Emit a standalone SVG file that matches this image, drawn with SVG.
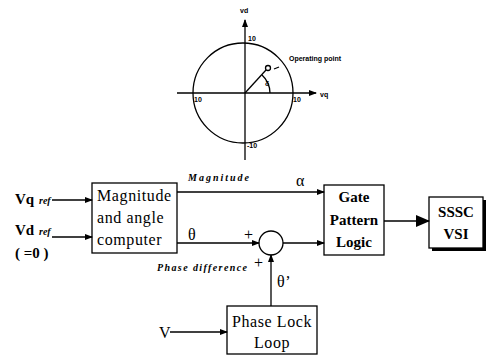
<svg xmlns="http://www.w3.org/2000/svg" width="499" height="356" viewBox="0 0 499 356">
<style>
.ln{stroke:#000;stroke-width:1.3;fill:none}
.box{stroke:#000;stroke-width:1.3;fill:#fff}
.t{font-family:"Liberation Serif",serif;font-size:16px;fill:#000;letter-spacing:0.6px}
.tb{font-family:"Liberation Serif",serif;font-size:15px;font-weight:bold;fill:#000}
.it{font-family:"Liberation Serif",serif;font-size:10px;font-style:italic;font-weight:bold;fill:#000}
.sm{font-family:"Liberation Sans",sans-serif;font-size:7px;font-weight:bold;fill:#000}
</style>
<defs>
<marker id="a" markerWidth="8" markerHeight="6" refX="7" refY="3" orient="auto" markerUnits="userSpaceOnUse"><path d="M0,0L8,3L0,6z" fill="#000"/></marker>
<marker id="ab" markerWidth="14" markerHeight="12" refX="13" refY="6" orient="auto" markerUnits="userSpaceOnUse"><path d="M0,0L14,6L0,12z" fill="#000"/></marker>
</defs>
<g id="phasor">
<circle cx="243" cy="93" r="50" class="ln" stroke-width="2"/>
<line x1="245" y1="160" x2="245" y2="20" class="ln" stroke-width="1.9" marker-end="url(#a)"/>
<line x1="177" y1="93" x2="316" y2="93" class="ln" stroke-width="1.7" marker-end="url(#a)"/>
<line x1="245" y1="93" x2="266" y2="70" class="ln" stroke-width="1.5"/>
<circle cx="268" cy="68" r="2.5" class="ln" stroke-width="1.3"/>
<path d="M270,93 A25,25 0 0 0 262,75" class="ln" stroke-width="1.3"/>
<text x="265" y="86" class="sm" font-size="8">δ</text>
<path d="M274,69 L279,67" class="ln" stroke-width="1"/>
<text x="289" y="61" class="sm" font-size="5">Operating point</text>
<text x="240" y="13" class="sm" font-size="8">vd</text>
<text x="320" y="97" class="sm" font-size="8">vq</text>
<text x="248" y="41" class="sm">10</text>
<text x="194" y="102" class="sm">10</text>
<text x="293" y="102" class="sm">10</text>
<text x="247" y="148" class="sm">-10</text>
</g>
<g id="mag">
<rect x="92" y="183" width="85" height="70" class="box"/>
<text x="97" y="201" class="t">Magnitude</text>
<text x="97" y="223" class="t">and angle</text>
<text x="97" y="245" class="t">computer</text>
</g>
<g id="gate">
<rect x="324" y="185" width="60" height="70" class="box"/>
<text x="354" y="202" class="tb" text-anchor="middle" font-size="16">Gate</text>
<text x="354" y="225" class="tb" text-anchor="middle" font-size="16">Pattern</text>
<text x="354" y="247" class="tb" text-anchor="middle" font-size="16">Logic</text>
</g>
<g id="sssc">
<rect x="432" y="200" width="54" height="51" fill="#000"/>
<rect x="429" y="197" width="54" height="51" class="box"/>
<text x="456" y="217" class="tb" text-anchor="middle">SSSC</text>
<text x="456" y="239" class="tb" text-anchor="middle">VSI</text>
</g>
<g id="pll">
<rect x="227" y="306" width="90" height="48" class="box"/>
<text x="272" y="327" class="t" text-anchor="middle">Phase Lock</text>
<text x="272" y="348" class="t" text-anchor="middle">Loop</text>
</g>
<g id="sum">
<circle cx="271" cy="243" r="12" class="box"/>
</g>
<g id="connectors">
<line x1="52" y1="200" x2="92" y2="200" class="ln" marker-end="url(#a)"/>
<line x1="52" y1="237" x2="92" y2="237" class="ln" marker-end="url(#a)"/>
<line x1="177" y1="192" x2="324" y2="192" class="ln" marker-end="url(#a)"/>
<line x1="177" y1="243" x2="259" y2="243" class="ln" marker-end="url(#a)"/>
<line x1="283" y1="243" x2="324" y2="243" class="ln" marker-end="url(#a)"/>
<line x1="271" y1="306" x2="271" y2="255" class="ln" marker-end="url(#a)"/>
<line x1="170" y1="332" x2="227" y2="332" class="ln" marker-end="url(#a)"/>
<line x1="384" y1="221" x2="429" y2="221" class="ln" stroke-width="3.5" marker-end="url(#ab)"/>
</g>
<g id="labels">
<text x="15" y="204" class="tb" font-size="16">Vq</text>
<text x="39" y="204" class="it" font-size="9">ref</text>
<text x="15" y="235" class="tb" font-size="16">Vd</text>
<text x="39" y="235" class="it" font-size="9">ref</text>
<text x="15" y="258" class="tb" font-size="16">( =0 )</text>
<text x="188" y="181" class="it" letter-spacing="2">Magnitude</text>
<text x="296" y="186" class="t" font-size="19">α</text>
<text x="188" y="240" class="t">θ</text>
<text x="244" y="240" class="t" font-size="12">+</text>
<text x="254" y="268" class="t" font-size="12">+</text>
<text x="157" y="271" class="it" letter-spacing="1.4">Phase difference</text>
<text x="277" y="287" class="t">θ’</text>
<text x="159" y="338" class="t">V</text>
</g>
</svg>
